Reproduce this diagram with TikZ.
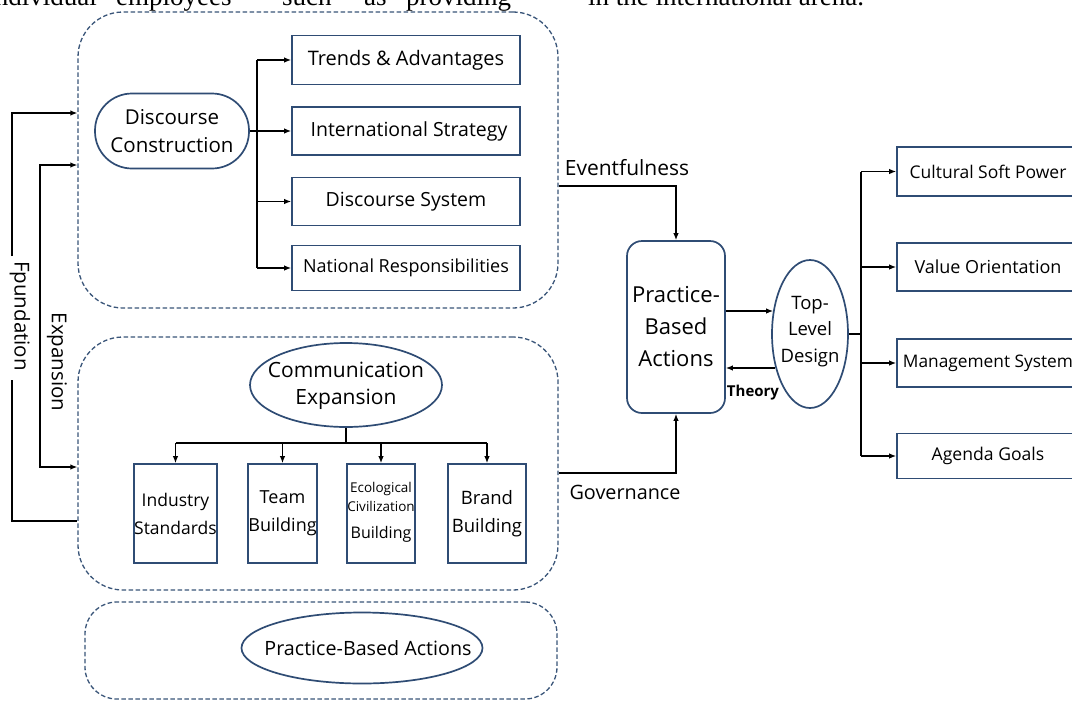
\documentclass[tikz,border=0pt]{standalone}
\usepackage{fontspec}
\setmainfont{Open Sans}
\newfontfamily\bodyserif{Liberation Serif}
\usetikzlibrary{shapes.geometric,arrows.meta}
\definecolor{edgeblue}{HTML}{2F4C74}
\definecolor{dashblue}{HTML}{3A5579}
\newcommand{\fsz}[2]{\fontsize{#1}{#2}\selectfont}
\begin{document}
\begin{tikzpicture}[x=1pt,y=-1pt,
 solidbox/.style={draw=edgeblue,line width=1.7pt,fill=white,inner sep=0pt,align=center,text=black},
 rbox/.style={solidbox,rectangle},
 groupbox/.style={draw=dashblue,line width=1.3pt,dash pattern=on 4.5pt off 2.5pt,rectangle,rounded corners=45pt,inner sep=0pt},
 arr/.style={-{Latex[length=7pt,width=5.5pt]},line width=1.3pt},
 ln/.style={line width=1.3pt},
 lbl/.style={text=black,align=center,inner sep=1pt},
]
\useasboundingbox (0,0) rectangle (1072,702);
\clip (0,0) rectangle (1072,702);
\fill[white] (0,0) rectangle (1072,702);

% clipped running text at the very top
\begin{scope}[every node/.style={font=\bodyserif\fsz{27}{30},text=black,inner sep=0pt}]
\node[anchor=base east] (w1) at (97,5) {individual};
\node[anchor=base west] (w2) at (116,5) {employees};
\node[anchor=base west] (w3) at (282,5) {such};
\node[anchor=base west] (w4) at (364,5) {as};
\node[anchor=base west] (w5) at (406,5) {providing};
\node[anchor=base west] (w6) at (588,5) {in the international arena.};
\end{scope}

% dashed groups
\node[groupbox,minimum width=480pt,minimum height=296pt] (B1) at (318,160) {};
\node[groupbox,minimum width=480pt,minimum height=253pt] (B2) at (318,463.5) {};
\node[groupbox,rounded corners=32pt,minimum width=472pt,minimum height=97pt] (B3) at (321,650.5) {};

% Discourse construction
\node[solidbox,rectangle,rounded corners=37pt,minimum width=154pt,minimum height=75pt,font=\fsz{20.5}{28}] (DC) at (172,131) {Discourse\\Construction};
\node[rbox,minimum width=228pt,minimum height=49pt,font=\fsz{20}{24}] (T1) at (406,60) {Trends \& Advantages};
\node[rbox,minimum width=228pt,minimum height=48pt,font=\fsz{19.5}{24}] (T2) at (406,131) {\hspace{6pt}International Strategy};
\node[rbox,minimum width=228pt,minimum height=48pt,font=\fsz{19.5}{24}] (T3) at (406,201.5) {Discourse System};
\node[rbox,minimum width=228pt,minimum height=45pt,font=\fsz{18}{22}] (T4) at (406,268) {National Responsibilities};
\coordinate (J1) at (257,131);
\draw[ln] (J1|-T1.west) -- (J1|-T4.west);
\draw[arr] (J1|-T1.west) -- (T1.west);
\draw[arr] (DC.east) -- (T2.west);
\draw[arr] (J1|-T3.west) -- (T3.west);
\draw[arr] (J1|-T4.west) -- (T4.west);

% Communication expansion
\node[solidbox,ellipse,minimum width=192pt,minimum height=84pt] (CE) at (346,385) {};
\node[lbl,font=\fsz{21}{27}] (CEt) at (346,386) {Communication\\Expansion};
\node[rbox,minimum width=79pt,minimum height=99pt,font=\fsz{17.5}{28}] (S1) at (175.5,513.5) {Industry\\Standards};
\node[rbox,minimum width=67pt,minimum height=99pt,font=\fsz{18}{28}] (S2) at (282.5,513.5) {Team\\Building};
\node[rbox,minimum width=68pt,minimum height=99pt,font=\fsz{13.5}{19}] (S3) at (381,513.5) {\\[-12pt]Ecological\\Civilization\\[8pt]{\fsz{16}{19}Building}};
\node[rbox,minimum width=78pt,minimum height=99pt,font=\fsz{18.5}{28}] (S4) at (487,513.5) {Brand\\Building};
\coordinate (J2) at (346,443);
\draw[ln] (CE.south) -- (J2);
\draw[ln] (J2-|S1.north) -- (J2-|S4.north);
\draw[arr] (J2-|S1.north) -- (S1.north);
\draw[arr] (J2-|S2.north) -- (S2.north);
\draw[arr] (J2-|S3.north) -- (S3.north);
\draw[arr] (J2-|S4.north) -- (S4.north);

% bottom group
\node[solidbox,ellipse,minimum width=241pt,minimum height=71pt] (PE) at (362,648) {};
\node[lbl,font=\fsz{19.7}{24}] (PEt) at (368,648) {Practice-Based Actions};

% Foundation / Expansion
\node[lbl,rotate=-90,font=\fsz{20.5}{24}] (FD) at (20,316) {Fpundation};
\node[lbl,rotate=-90,font=\fsz{20.5}{24}] (EX) at (57,362) {Expansion};
\coordinate (F1) at (12,256);
\coordinate (F2) at (12,380);
\coordinate (FY) at (0,113);
\coordinate (FB) at (0,521);
\draw[arr] (F1) |- (B1.west|-FY);
\draw[ln] (F2) |- (B2.west|-FB);
\coordinate (E1) at (40,300);
\coordinate (EY1) at (0,165);
\coordinate (EY2) at (0,467);
\draw[arr] (E1) |- (B1.west|-EY1);
\draw[arr] (E1) |- (B2.west|-EY2);

% Practice-based actions and top-level design
\node[solidbox,rectangle,rounded corners=15pt,minimum width=98pt,minimum height=172pt,font=\fsz{22}{32}] (PBA) at (676,327) {Practice-\\Based\\Actions};
\node[solidbox,ellipse,minimum width=76pt,minimum height=148pt] (TLD) at (810,334) {};
\node[lbl,font=\fsz{18.5}{26.5}] (TLDt) at (810,331.5) {Top-\\Level\\Design};

\coordinate (EV) at (0,186);
\coordinate (GV) at (0,473);
\draw[arr] (B1.east|-EV) -| (PBA.north);
\draw[arr] (B2.east|-GV) -| (PBA.south);
\node[lbl,font=\fsz{21}{24}] (EVl) at (627,168) {Eventfulness};
\node[lbl,font=\fsz{19.8}{24}] (GVl) at (625,492) {Governance};

\draw[arr] ([yshift=16pt]PBA.east) -- ([xshift=2pt,yshift=23pt]TLD.west);
\draw[arr] ([xshift=4pt,yshift=-34pt]TLD.west) -- ([yshift=-41pt]PBA.east);
\node[lbl,font=\bfseries\fsz{15}{18}] (TH) at (753,393) {Theory};

% right column
\node[rbox,minimum width=182pt,minimum height=49pt,font=\fsz{17.5}{20}] (R1) at (988,171.5) {Cultural Soft Power};
\node[rbox,minimum width=182pt,minimum height=48pt,font=\fsz{18}{20}] (R2) at (988,267) {Value Orientation};
\node[rbox,minimum width=182pt,minimum height=48pt,font=\fsz{17.3}{20}] (R3) at (988,363) {Management System};
\node[rbox,minimum width=182pt,minimum height=45pt,font=\fsz{17.6}{20}] (R4) at (988,456) {Agenda Goals};
\coordinate (J3) at (861,334);
\draw[ln] (TLD.east) -- (J3);
\draw[ln] (J3|-R1.west) -- (J3|-R4.west);
\draw[arr] (J3|-R1.west) -- (R1.west);
\draw[arr] (J3|-R2.west) -- (R2.west);
\draw[arr] (J3|-R3.west) -- (R3.west);
\draw[arr] (J3|-R4.west) -- (R4.west);
\end{tikzpicture}
\end{document}
